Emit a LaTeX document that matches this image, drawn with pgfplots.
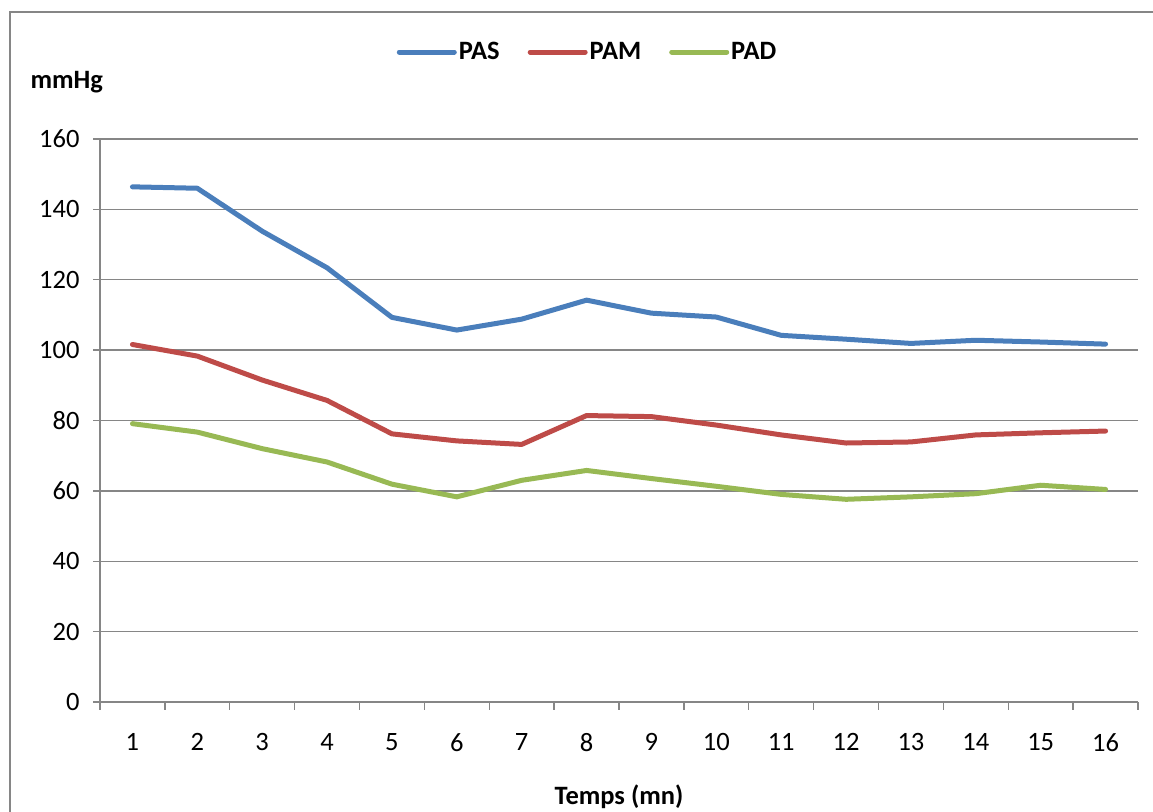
\documentclass[border=0pt]{standalone}
\usepackage{pgfplots}
\pgfplotsset{compat=1.18}
\usepackage{fontspec}
\setmainfont{Carlito}
\definecolor{cblue}{HTML}{4A7EBB}
\definecolor{cred}{HTML}{BE4B48}
\definecolor{cgreen}{HTML}{98B954}
\definecolor{cgrid}{HTML}{868686}
\begin{document}
\begin{tikzpicture}[x=1bp,y=1bp]
\useasboundingbox (0,0) rectangle (1153,812);
\draw[cgrid, line width=1.5bp] (10,0) -- (10,800) -- (1153,800);
\node[anchor=west, font=\fontsize{26.5bp}{30bp}\selectfont\bfseries] at (27,730) {mmHg};
\begin{axis}[
  at={(100bp,110bp)}, anchor=south west,
  scale only axis, width=1038bp, height=563bp,
  xmin=0.5, xmax=16.5, ymin=0, ymax=160,
  axis x line*=bottom, axis y line*=left,
  axis line style={cgrid, line width=1.3bp, -},
  xtick={1,...,16},
  minor xtick={0.5,1.5,...,16.5},
  ytick={0,20,...,160},
  tick align=outside,
  major tick length=7bp, minor tick length=8bp,
  major x tick style={draw=none},
  minor x tick style={cgrid, line width=1.3bp},
  major y tick style={cgrid, line width=1.3bp},
  ymajorgrids, grid style={cgrid, line width=1.3bp},
  /pgf/number format/assume math mode=true,
  tick label style={font=\fontsize{26.5bp}{30bp}\selectfont},
  xticklabel style={yshift=-21bp},
  yticklabel style={xshift=-10bp},
  xlabel={Temps (mn)},
  xlabel style={font=\fontsize{26.5bp}{30bp}\selectfont\bfseries, at={(axis description cs:0.5,0)}, anchor=center, yshift=-95bp},
  legend columns=3,
  legend style={draw=none, fill=none, at={(0.4697,1.1545)}, anchor=center,
    font=\fontsize{26.5bp}{30bp}\selectfont\bfseries, inner sep=0pt,
    nodes={inner sep=2bp},
    /tikz/every even column/.append style={column sep=26bp}},
  legend image code/.code={\draw[#1, line width=5bp] (0bp,0bp) -- (55bp,0bp);},
  every axis plot/.append style={line width=5bp, line join=round, line cap=round},
]
\addplot[cblue] coordinates {(1,146.4) (2,146.0) (3,133.8) (4,123.4) (5,109.3) (6,105.7) (7,108.8) (8,114.2) (9,110.5) (10,109.4) (11,104.2) (12,103.1) (13,101.9) (14,102.8) (15,102.3) (16,101.7)};
\addlegendentry{PAS}
\addplot[cred] coordinates {(1,101.6) (2,98.3) (3,91.5) (4,85.7) (5,76.2) (6,74.2) (7,73.2) (8,81.4) (9,81.1) (10,78.7) (11,75.9) (12,73.6) (13,73.9) (14,75.9) (15,76.5) (16,77.0)};
\addlegendentry{PAM}
\addplot[cgreen] coordinates {(1,79.1) (2,76.7) (3,72.0) (4,68.2) (5,61.9) (6,58.3) (7,63.0) (8,65.8) (9,63.5) (10,61.3) (11,59.0) (12,57.6) (13,58.3) (14,59.2) (15,61.6) (16,60.4)};
\addlegendentry{PAD}
\end{axis}
\end{tikzpicture}
\end{document}
